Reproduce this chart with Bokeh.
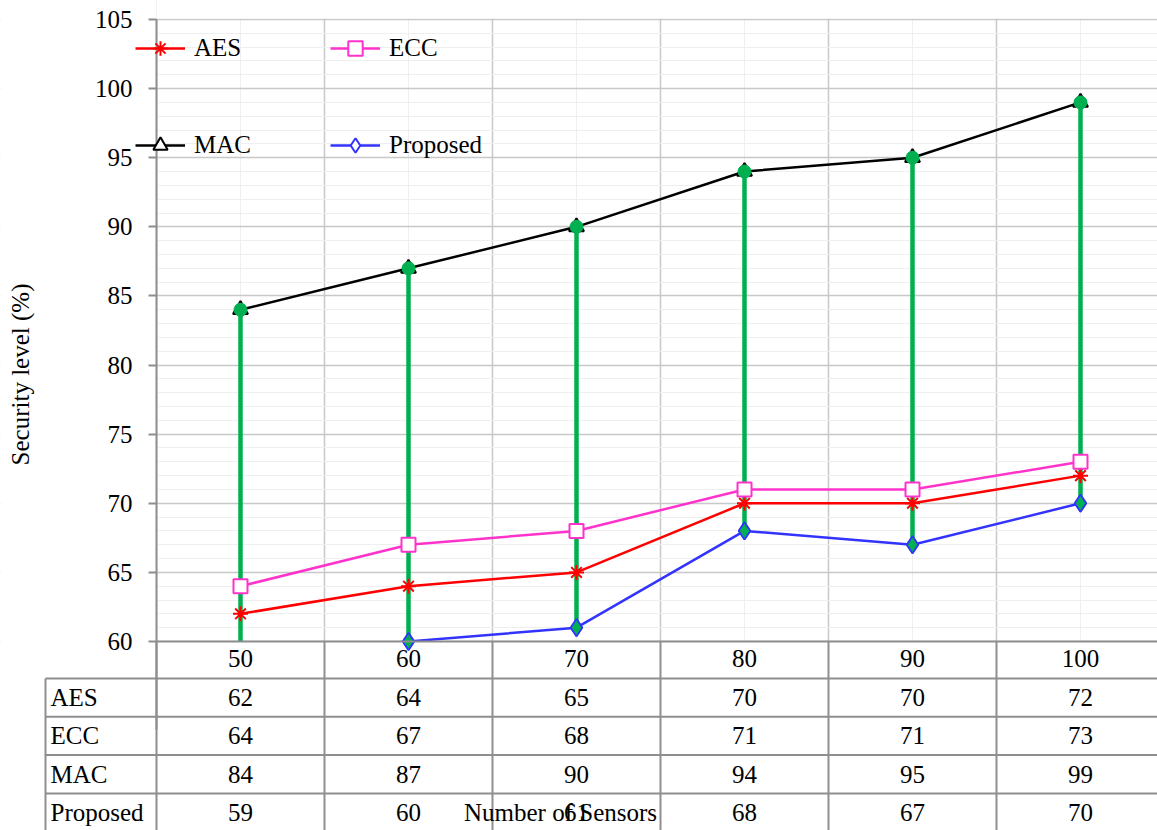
from bokeh.plotting import figure
from bokeh.models import Range1d, FixedTicker, Legend, LegendItem, BooleanFilter, CDSView, ColumnDataSource
from bokeh.core.properties import value
from bokeh.embed import file_html
from bokeh.resources import INLINE

# ---------------- data ----------------
categories = ["50", "60", "70", "80", "90", "100"]
aes = [62, 64, 65, 70, 70, 72]
ecc = [64, 67, 68, 71, 71, 73]
mac = [84, 87, 90, 94, 95, 99]
proposed = [59, 60, 61, 68, 67, 70]
series_names = ["AES", "ECC", "MAC", "Proposed"]
y_ticks = [60, 65, 70, 75, 80, 85, 90, 95, 100, 105]
y_minor = list(range(60, 106))
x_title = "Number of Sensors"
y_title = "Security level (%)"

# ---------------- style ----------------
FONT = "Liberation Serif"
FS = "25px"
GRAY = "#8E8E8E"
GRID = "#C8C8C8"
FAINT = "#EFEFEF"
GREEN = "#00B050"
C_AES = "#FF0000"
C_ECC = "#FF33CC"
C_MAC = "#000000"
C_PRO = "#3333FF"

W, H = 1157, 830
PLOT_TOP = 19            # value-axis maximum (image px)
AXIS_X_PX = 156          # y axis position (image px)
AXIS_Y_PX = 641          # x axis position (image px)
TITLE_C_PX = 374         # vertical centre of the y-axis title (image px)
PX = 168.0               # px per category
Y0, Y1 = y_ticks[0], y_ticks[-1]
PXY = (AXIS_Y_PX - PLOT_TOP) / (Y1 - Y0)
HEADER_PX = 37
ROW_PX = 38.3
TBL_LEFT_PX = 45

idx = list(range(len(categories)))
bounds = [i - 0.5 for i in range(len(categories) + 1)]

x_start = -0.5 - AXIS_X_PX / PX
x_end = x_start + W / PX
y_start = Y0 - (H - AXIS_Y_PX) / PXY
y_end = Y1 + PLOT_TOP / PXY
tbl_left = -0.5 - (AXIS_X_PX - TBL_LEFT_PX) / PX
tbl_top = Y0 - HEADER_PX / PXY
row_h = ROW_PX / PXY

p = figure(width=W, height=H,
           x_range=Range1d(x_start, x_end), y_range=Range1d(y_start, y_end),
           output_backend="svg", toolbar_location=None,
           min_border_left=0, min_border_right=0,
           min_border_top=0, min_border_bottom=0,
           outline_line_color=None, background_fill_color="white",
           border_fill_color="white")

xt = FixedTicker(ticks=idx, minor_ticks=bounds)
yt = FixedTicker(ticks=y_ticks, minor_ticks=y_minor)
p.xaxis.ticker = xt
p.xgrid.ticker = xt
p.yaxis.ticker = yt
p.ygrid.ticker = yt

p.xaxis.fixed_location = Y0
p.yaxis.fixed_location = -0.5
p.xaxis.bounds = (-0.5, x_end)
# axis line runs down into the table (the table rule continues it to the bottom);
# its span sets where the axis title is centred
p.yaxis.bounds = (Y0 - (2 * TITLE_C_PX - PLOT_TOP - AXIS_Y_PX) / PXY, Y1)

p.xaxis.major_label_overrides = {i: c for i, c in zip(idx, categories)}
for ax in (p.xaxis, p.yaxis):
    ax.axis_line_color = GRAY
    ax.axis_line_width = 2
    ax.major_label_text_font = FONT
    ax.major_label_text_font_size = FS
    ax.major_label_text_color = "black"
    ax.major_tick_line_color = GRAY
    ax.major_tick_line_width = 2
    ax.minor_tick_out = 0
    ax.minor_tick_in = 0

p.xaxis.major_tick_out = 0
p.xaxis.major_tick_in = 0
p.xaxis.major_label_standoff = 8

p.yaxis.major_tick_out = 8
p.yaxis.major_tick_in = 0
p.yaxis.major_label_standoff = 16
p.yaxis.axis_label = y_title
p.yaxis.axis_label_text_font = FONT
p.yaxis.axis_label_text_font_size = FS
p.yaxis.axis_label_text_font_style = "normal"
p.yaxis.axis_label_text_color = "black"
p.yaxis.axis_label_standoff = 58

p.xgrid.grid_line_color = FAINT
p.xgrid.minor_grid_line_color = GRID
p.xgrid.minor_grid_line_width = 1.5
p.ygrid.grid_line_color = GRID
p.ygrid.grid_line_width = 1.5
p.ygrid.minor_grid_line_color = FAINT

# series lines
l_aes = p.line(idx, aes, line_color=C_AES, line_width=2.5)
l_ecc = p.line(idx, ecc, line_color=C_ECC, line_width=2.5)
l_mac = p.line(idx, mac, line_color=C_MAC, line_width=2.5)
l_pro = p.line(idx, proposed, line_color=C_PRO, line_width=2.5)
# high-low lines
p.segment(x0=idx, y0=mac, x1=idx, y1=proposed, line_color=GREEN, line_width=4.5)

# white masks outside the plot area (left strip, below axis, above maximum)
eps = 1.0 / PXY
p.quad(left=[x_start, -0.5, -0.5], right=[-0.5, x_end, x_end],
       bottom=[y_start, y_start, Y1 + eps], top=[y_end, Y0, y_end],
       fill_color="white", line_color=None)

# markers (points below the axis minimum are hidden, as in the reference)
src = ColumnDataSource(dict(x=idx, aes=aes, ecc=ecc, mac=mac, pro=proposed))
view_pro = CDSView(filter=BooleanFilter([v >= Y0 for v in proposed]))
s_aes = p.scatter("x", "aes", source=src, marker="asterisk", size=15,
                  line_color=C_AES, line_width=2)
s_ecc = p.scatter("x", "ecc", source=src, marker="square", size=14,
                  line_color=C_ECC, fill_color="white", line_width=2)
s_mac = p.scatter("x", "mac", source=src, marker="triangle", size=15,
                  line_color=C_MAC, fill_color="white", line_width=2)
s_pro = p.scatter("x", "pro", source=src, view=view_pro, marker="diamond", size=17,
                  line_color=C_PRO, fill_color="white", line_width=2)
p.scatter("x", "mac", source=src, marker="circle", size=13,
          fill_color=GREEN, line_color=GREEN)
p.scatter("x", "pro", source=src, view=view_pro, marker="diamond", size=17,
          fill_color=GREEN, line_color=C_PRO, line_width=1.5)

# legends (one per entry, positioned like the reference)
GH = 36
def leg_loc(img_x, img_yc):
    return (img_x, H - img_yc - GH // 2)

legend_specs = [
    (series_names[0], [l_aes, s_aes], leg_loc(135, 48)),
    (series_names[1], [l_ecc, s_ecc], leg_loc(330, 48)),
    (series_names[2], [l_mac, s_mac], leg_loc(135, 145)),
    (series_names[3], [l_pro, s_pro], leg_loc(330, 145)),
]
for label, rends, loc in legend_specs:
    lg = Legend(items=[LegendItem(label=label, renderers=rends)], location=loc,
                padding=0, margin=0, border_line_color=None,
                background_fill_alpha=0, glyph_width=50, glyph_height=GH,
                label_height=GH, label_standoff=9,
                label_text_font=FONT, label_text_font_size=FS,
                label_text_color="black")
    p.add_layout(lg, "center")

# ---------------- data table ----------------
n_rows = len(series_names)
row_tops = [tbl_top - k * row_h for k in range(n_rows)]
p.segment(x0=[tbl_left] * n_rows, y0=row_tops, x1=[x_end] * n_rows, y1=row_tops,
          line_color=GRAY, line_width=2)
vx = [tbl_left] + bounds[:-1]
vtop = [tbl_top] + [Y0] * (len(bounds) - 1)
p.segment(x0=vx, y0=vtop, x1=vx, y1=[y_start] * len(vx),
          line_color=GRAY, line_width=2)

rows = [aes, ecc, mac, proposed]
label_x = tbl_left + 5 / PX
for r, (name, vals) in enumerate(zip(series_names, rows)):
    yc = tbl_top - (r + 0.5) * row_h
    p.text(x=[label_x], y=[yc], text=[name], text_font=value(FONT),
           text_font_size=FS, text_align="left", text_baseline="middle",
           text_color="black")
    p.text(x=idx, y=[yc] * len(idx), text=[str(v) for v in vals],
           text_font=value(FONT), text_font_size=FS, text_align="center",
           text_baseline="middle", text_color="black")

p.text(x=[(560 - 240) / PX], y=[tbl_top - (n_rows - 0.5) * row_h], text=[x_title],
       text_font=value(FONT), text_font_size=FS, text_align="center",
       text_baseline="middle", text_color="black")

open("out.html", "w").write(file_html(p, INLINE))
